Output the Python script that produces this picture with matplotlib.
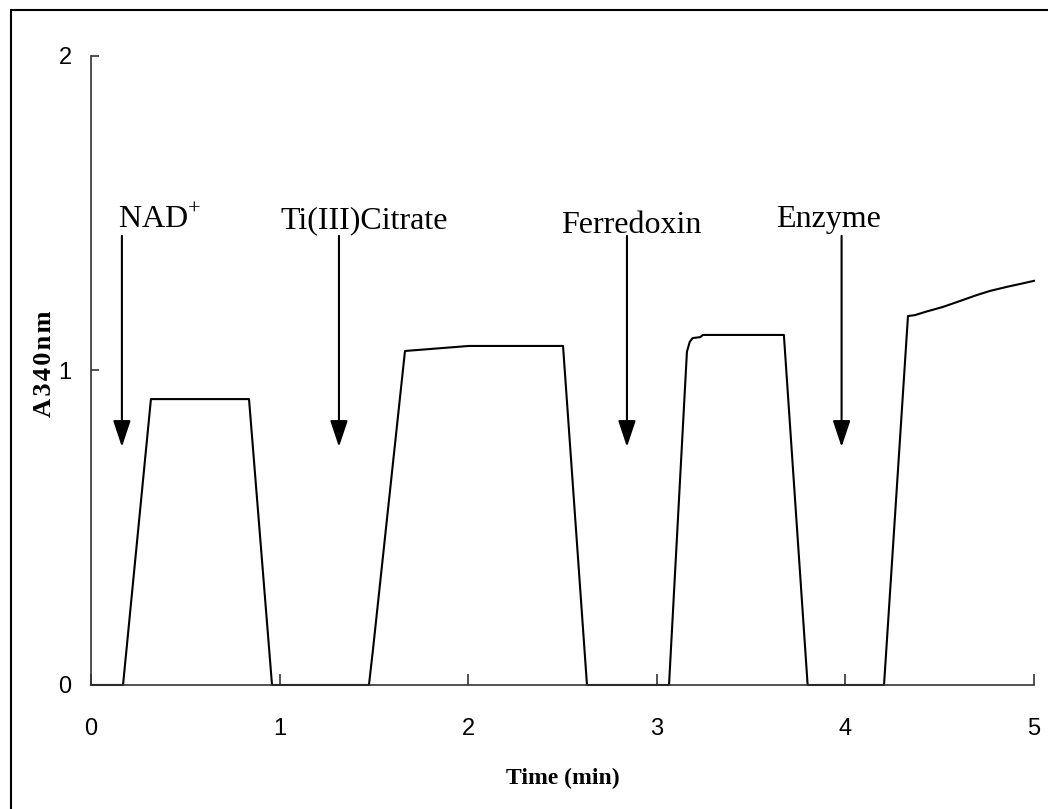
import matplotlib.pyplot as plt
from matplotlib.patches import Rectangle

plt.rcParams['mathtext.fontset'] = 'custom'
plt.rcParams['mathtext.rm'] = 'Liberation Serif'

# absorbance trace (time in min, A340)
time = [0.0, 0.17, 0.318, 0.838, 0.96,
        1.474, 1.495, 1.665, 2.004, 2.503, 2.63,
        3.065, 3.16, 3.175, 3.19, 3.23, 3.245, 3.674, 3.80,
        4.205, 4.332, 4.369, 4.422, 4.517, 4.608, 4.698, 4.767, 4.857, 4.926, 5.0]
a340 = [0.0, 0.0, 0.909, 0.909, 0.0,
        0.0, 0.111, 1.062, 1.078, 1.078, 0.0,
        0.0, 1.06, 1.091, 1.103, 1.106, 1.113, 1.113, 0.0,
        0.0, 1.173, 1.176, 1.186, 1.202, 1.221, 1.240, 1.253, 1.266, 1.275, 1.285]

# additions
add_labels = ['NAD$^{+}$', 'Ti(III)Citrate', 'Ferredoxin', 'Enzyme']
add_times = [0.164, 1.315, 2.842, 3.98]
label_x = [0.143, 1.002, 2.492, 3.632]
label_y = [1.453, 1.453, 1.437, 1.456]
arrow_top = 1.428
arrow_tip = 0.757

fig = plt.figure(figsize=(10.48, 8.09), dpi=100)
# frame round the chart: only its top and left edges fall inside the image
fig.patches.append(Rectangle((11 / 1048, -0.5), 2, 1.5 - 10 / 809, transform=fig.transFigure,
                             fill=False, edgecolor='black', linewidth=1.5))
ax = fig.add_axes([0.0868, 0.1533, 0.8998, 0.7775])

ax.plot(time, a340, color='black', linewidth=1.5, clip_on=False)

for lab, t, lx, ly in zip(add_labels, add_times, label_x, label_y):
    ax.annotate('', xy=(t, arrow_tip), xytext=(t, arrow_top),
                arrowprops=dict(arrowstyle='-|>,head_width=0.3,head_length=0.9',
                                color='black', lw=1.5, shrinkA=0, shrinkB=0,
                                mutation_scale=18))
    ax.text(lx, ly, lab, fontsize=23, family='Liberation Serif',
            ha='left', va='baseline')

ax.set_xlim(0, 5)
ax.set_ylim(0, 2)
ax.set_xticks([0, 1, 2, 3, 4, 5])
ax.set_yticks([0, 1, 2])
ax.spines['top'].set_visible(False)
ax.spines['right'].set_visible(False)
for s in ['left', 'bottom']:
    ax.spines[s].set_linewidth(1.2)
    ax.spines[s].set_color('#333333')
ax.tick_params(axis='y', direction='in', length=6, width=1.2, pad=14,
               labelsize=17, colors='#333333', labelcolor='black')
ax.tick_params(axis='x', direction='in', length=8, width=1.2, pad=24,
               labelsize=17, colors='#333333', labelcolor='black')
for lab in ax.get_xticklabels() + ax.get_yticklabels():
    lab.set_family('Liberation Sans')

ax.set_xlabel('Time (min)', fontsize=17, fontweight='bold',
              family='Liberation Serif', labelpad=20)
ax.set_ylabel('A\u200a3\u200a4\u200a0\u200an\u200am', fontsize=19, fontweight='bold',
              family='Liberation Serif')
ax.yaxis.set_label_coords(-0.037, 0.51)

fig.savefig('out.png', dpi=100)
